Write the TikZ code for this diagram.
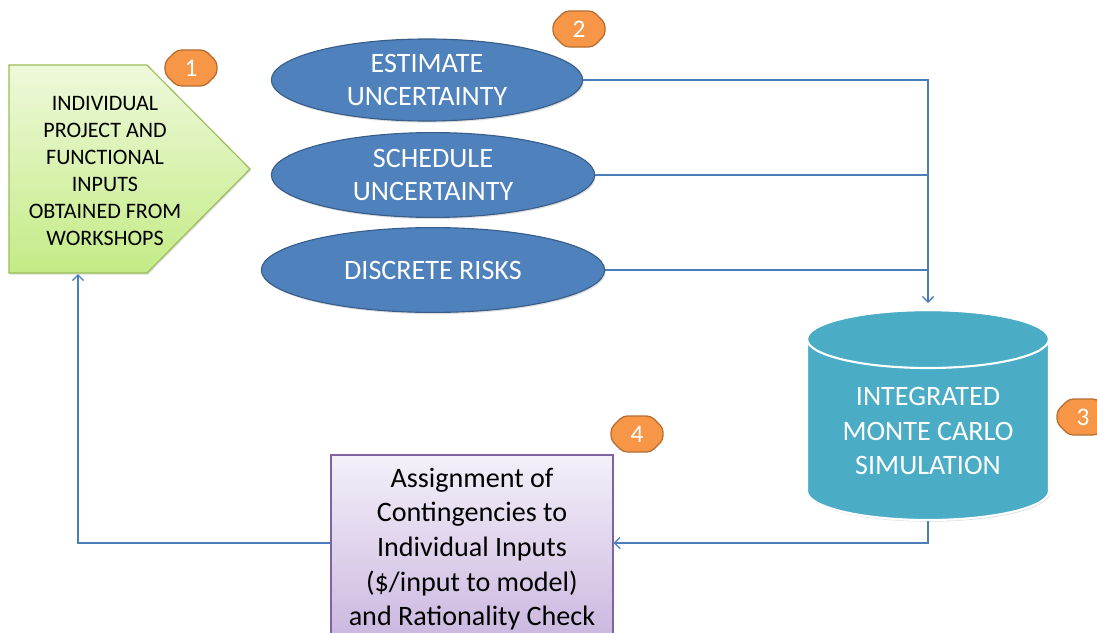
\documentclass[tikz,border=0pt]{standalone}
\usepackage{fontspec}
\setmainfont{Carlito}
\usetikzlibrary{shapes.geometric,shapes.misc,shadows,arrows.meta}

\definecolor{riskfill}{HTML}{4F81BD}
\definecolor{riskline}{HTML}{385D8A}
\definecolor{simfill}{HTML}{4BACC6}
\definecolor{badgefill}{HTML}{F79646}
\definecolor{badgeline}{HTML}{B66D31}
\definecolor{linkcol}{HTML}{4A7EBB}
\definecolor{inputtop}{HTML}{EEF9DA}
\definecolor{inputbot}{HTML}{C4EB86}
\definecolor{inputline}{HTML}{9BBB59}
\definecolor{assigntop}{HTML}{F4F0F9}
\definecolor{assignbot}{HTML}{CAB6DF}
\definecolor{assignline}{HTML}{8064A2}

\tikzset{
    softshadow/.style={drop shadow={opacity=0.25,shadow xshift=0.8pt,shadow yshift=-1.2pt}},
    riskellipse/.style={ellipse,draw=riskline,line width=0.8pt,fill=riskfill,text=white,
        inner sep=0pt,align=center,font=\fontsize{20}{24}\selectfont,softshadow},
    badge/.style={chamfered rectangle,chamfered rectangle xsep=0.15cm,chamfered rectangle ysep=0.15cm,
        rounded corners=3pt,draw=badgeline,line width=0.9pt,fill=badgefill,text=white,
        minimum width=1.3cm,minimum height=0.9cm,inner sep=0pt,font=\fontsize{18}{20}\selectfont},
    link/.style={draw=linkcol,line width=0.9pt},
}

\begin{document}
\begin{tikzpicture}[x=0.025cm,y=-0.025cm,>={Straight Barb[length=4pt,width=8pt]}]
    \clip (0,0) rectangle (1097,632);

    % inputs from workshops
    \path[draw=inputline,line width=0.8pt,top color=inputtop,bottom color=inputbot,softshadow]
        (9,65) -- (147,65) -- (250,169) -- (147,273) -- (9,273) -- cycle;
    \node[align=center,font=\fontsize{15.7}{19.2}\selectfont] (inputs) at (105,171)
        {INDIVIDUAL\\PROJECT AND\\FUNCTIONAL\\INPUTS\\OBTAINED FROM\\WORKSHOPS};
    \coordinate (inbot) at (78,274);

    % uncertainty ellipses
    \node[riskellipse,minimum width=7.78cm,minimum height=2.05cm] (est) at (427,80) {ESTIMATE\\UNCERTAINTY};
    \node[riskellipse,minimum width=8.08cm,minimum height=2.12cm] (sched) at (433,175) {SCHEDULE\\UNCERTAINTY};
    \node[riskellipse,minimum width=8.58cm,minimum height=2.12cm] (risks) at (433,270) {DISCRETE RISKS};

    % monte carlo cylinder
    \path[draw=white,line width=1.5pt,fill=simfill,softshadow]
        (807,339) -- (807,491) arc[start angle=180,end angle=0,x radius=121,y radius=29]
        -- (1049,339) arc[start angle=0,end angle=-180,x radius=121,y radius=29] -- cycle;
    \draw[white,line width=1.5pt] (928,339) ellipse [x radius=121,y radius=29];
    \node[text=white,align=center,font=\fontsize{20}{24.5}\selectfont] (sim) at (928,431)
        {INTEGRATED\\MONTE CARLO\\SIMULATION};
    \coordinate (simtop) at (928,303);
    \coordinate (simbot) at (928,521);

    % contingency assignment
    \node[draw=assignline,line width=0.8pt,top color=assigntop,bottom color=assignbot,softshadow,
        minimum width=7.05cm,minimum height=4.7cm,align=center,font=\fontsize{20}{24.6}\selectfont] (assign) at (472,549)
        {Assignment of\\Contingencies to\\Individual Inputs\\(\$/input to model)\\and Rationality Check};

    % numbered badges
    \node[badge] (b1) at (191,68) {1};
    \node[badge] (b2) at (579,29) {2};
    \node[badge] (b3) at (1083,417) {3};
    \node[badge] (b4) at (637,434) {4};

    % connectors
    \draw[link,->] (est.east) -| (simtop);
    \draw[link] (sched.east) -- (sched.east -| simtop);
    \draw[link] (risks.east) -- (risks.east -| simtop);
    \draw[link,->] (simbot) |- ([yshift=0.15cm]assign.east);
    \draw[link,->] ([yshift=0.15cm]assign.west) -| (inbot);
\end{tikzpicture}
\end{document}
